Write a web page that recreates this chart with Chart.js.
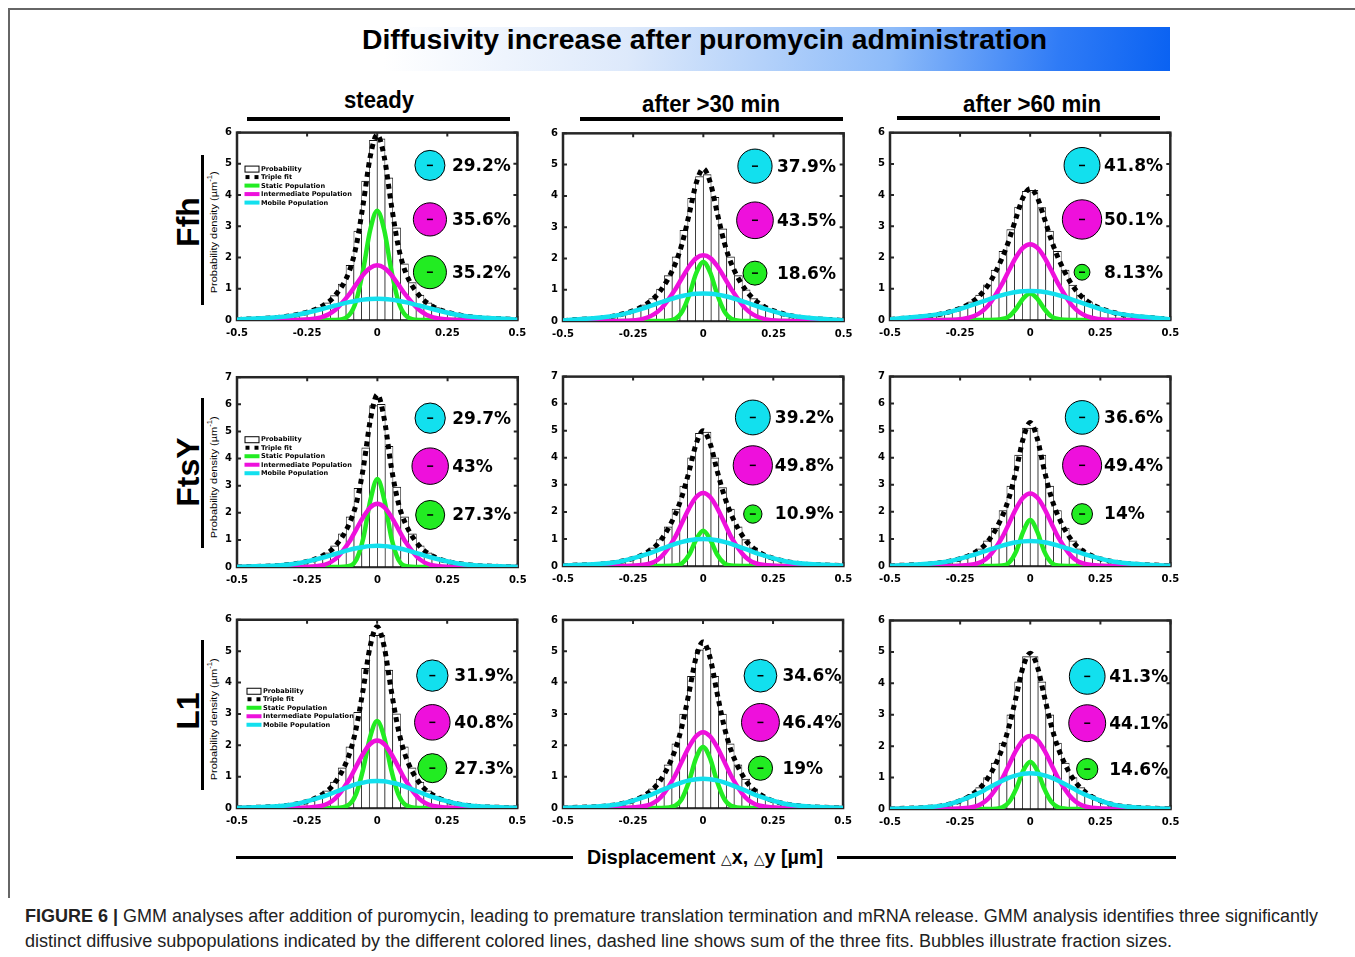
<!DOCTYPE html>
<html>
<head>
<meta charset="utf-8">
<script src="https://cdn.jsdelivr.net/npm/chart.js@4.4.0/dist/chart.umd.min.js"></script>
<style>
  body { margin:0; width:1355px; height:957px; background:#fff; position:relative; overflow:hidden; }
  canvas { position:absolute; }
  .txt { position:absolute; white-space:nowrap; color:#000; }
  .rule { position:absolute; background:#000; }
  .tri { font-weight:normal; font-size:0.72em; }
</style>
</head>
<body>
<script>
// sample offsets |dx| (µm) of the fitted curves; histogram has 36 bins over [-0.5, 0.5]
const offsets = [0, 0.025, 0.05, 0.075, 0.1, 0.15, 0.2, 0.3, 0.5];
const nBins = 36;
const proteins = ['Ffh', 'FtsY', 'L1'];
const conditions = ['steady', 'after >30 min', 'after >60 min'];
const yMax = [6, 7, 6];

// bubble fractions (%): mobile, intermediate, static -- per condition
const ffhFractions  = [[29.2, 35.6, 35.2], [37.9, 43.5, 18.6], [41.8, 50.1, 8.13]];
const ftsyFractions = [[29.7, 43, 27.3], [39.2, 49.8, 10.9], [36.6, 49.4, 14]];
const l1Fractions   = [[31.9, 40.8, 27.3], [34.6, 46.4, 19], [41.3, 44.1, 14.6]];

// fitted densities at the offsets above (curves are symmetric around 0)
const ffhStatic = [[3.5, 2.88, 1.61, 0.61, 0.16, 0.003, 0, 0, 0], [1.89, 1.54, 0.84, 0.31, 0.074, 0.001, 0, 0, 0], [0.85, 0.69, 0.36, 0.12, 0.03, 0, 0, 0, 0]];
const ffhInter  = [[1.75, 1.67, 1.45, 1.14, 0.82, 0.32, 0.084, 0.002, 0], [2.1, 2.01, 1.75, 1.39, 1.01, 0.40, 0.112, 0.003, 0], [2.43, 2.32, 2.02, 1.60, 1.16, 0.46, 0.127, 0.003, 0]];
const ffhMobile = [[0.68, 0.673, 0.652, 0.618, 0.573, 0.463, 0.344, 0.147, 0.01], [0.88, 0.871, 0.844, 0.80, 0.743, 0.601, 0.447, 0.192, 0.013], [0.93, 0.921, 0.895, 0.852, 0.796, 0.656, 0.499, 0.229, 0.019]];
const ftsyStatic = [[3.25, 2.46, 1.07, 0.27, 0.04, 0, 0, 0, 0], [1.3, 0.98, 0.42, 0.10, 0.015, 0, 0, 0, 0], [1.7, 1.27, 0.54, 0.13, 0.017, 0, 0, 0, 0]];
const ftsyInter  = [[2.33, 2.20, 1.85, 1.39, 0.93, 0.29, 0.058, 0, 0], [2.7, 2.55, 2.14, 1.61, 1.07, 0.34, 0.067, 0, 0], [2.68, 2.53, 2.13, 1.59, 1.06, 0.33, 0.066, 0, 0]];
const ftsyMobile = [[0.78, 0.77, 0.74, 0.69, 0.63, 0.48, 0.33, 0.11, 0.003], [1.0, 0.99, 0.95, 0.89, 0.815, 0.63, 0.44, 0.16, 0.006], [0.92, 0.91, 0.875, 0.82, 0.754, 0.59, 0.416, 0.154, 0.006]];
const l1Static = [[2.77, 2.26, 1.23, 0.45, 0.11, 0.002, 0, 0, 0], [1.95, 1.59, 0.85, 0.30, 0.072, 0.001, 0, 0, 0], [1.5, 1.22, 0.65, 0.23, 0.054, 0.001, 0, 0, 0]];
const l1Inter  = [[2.15, 2.04, 1.73, 1.32, 0.90, 0.30, 0.066, 0.001, 0], [2.42, 2.29, 1.95, 1.50, 1.03, 0.35, 0.079, 0.001, 0], [2.32, 2.20, 1.87, 1.42, 0.97, 0.33, 0.071, 0.001, 0]];
const l1Mobile = [[0.86, 0.85, 0.81, 0.76, 0.68, 0.51, 0.345, 0.11, 0.003], [0.93, 0.92, 0.88, 0.82, 0.74, 0.56, 0.375, 0.12, 0.003], [1.14, 1.12, 1.07, 1.0, 0.90, 0.665, 0.44, 0.13, 0.003]];

// displacement histograms, 36 bins from -0.5 to 0.5
const ffhHist = [
  [0.01,0.02,0.03,0.04,0.06,0.09,0.12,0.16,0.22,0.29,0.40,0.55,0.78,1.15,1.75,2.85,4.45,5.75, 5.8,4.55,2.95,1.8,1.2,0.8,0.55,0.4,0.29,0.22,0.16,0.12,0.09,0.06,0.04,0.03,0.02,0.01],
  [0.02,0.03,0.04,0.06,0.08,0.11,0.16,0.21,0.28,0.38,0.52,0.72,1.02,1.45,2.05,2.9,3.92,4.62, 4.68,3.95,2.95,2.05,1.45,1.0,0.72,0.52,0.38,0.28,0.21,0.16,0.11,0.08,0.06,0.04,0.03,0.02],
  [0.02,0.04,0.05,0.08,0.10,0.14,0.19,0.25,0.33,0.43,0.58,0.8,1.13,1.6,2.2,2.9,3.62,4.12, 4.15,3.6,2.85,2.2,1.6,1.12,0.8,0.58,0.43,0.33,0.25,0.19,0.14,0.1,0.08,0.05,0.04,0.02]
];
const ftsyHist = [
  [0.01,0.01,0.01,0.02,0.04,0.06,0.09,0.12,0.18,0.25,0.36,0.52,0.78,1.22,1.85,2.9,4.4,5.95, 6.0,4.45,2.95,1.85,1.22,0.78,0.52,0.36,0.25,0.18,0.12,0.09,0.06,0.04,0.02,0.01,0.01,0.01],
  [0.01,0.01,0.02,0.04,0.06,0.09,0.12,0.18,0.25,0.34,0.47,0.67,0.98,1.45,2.1,2.95,4.0,4.9, 4.95,4.0,2.9,2.1,1.45,0.98,0.67,0.47,0.34,0.25,0.18,0.12,0.09,0.06,0.04,0.02,0.01,0.01],
  [0.01,0.01,0.02,0.04,0.06,0.08,0.12,0.17,0.24,0.32,0.45,0.63,0.93,1.4,2.05,2.95,4.1,5.1, 5.1,4.1,2.95,2.05,1.4,0.93,0.63,0.45,0.32,0.24,0.17,0.12,0.08,0.06,0.04,0.02,0.01,0.01]
];
const l1Hist = [
  [0,0.01,0.01,0.02,0.04,0.06,0.08,0.12,0.18,0.26,0.38,0.55,0.83,1.28,1.95,3.05,4.45,5.5, 5.5,4.4,3.0,1.95,1.28,0.83,0.55,0.38,0.26,0.18,0.12,0.08,0.06,0.04,0.02,0.01,0.01,0],
  [0,0.01,0.01,0.02,0.04,0.06,0.09,0.14,0.2,0.28,0.42,0.61,0.92,1.38,2.05,3.0,4.2,5.05, 5.1,4.2,3.0,2.05,1.38,0.92,0.61,0.42,0.28,0.2,0.14,0.09,0.06,0.04,0.02,0.01,0.01,0],
  [0,0.01,0.01,0.02,0.04,0.06,0.1,0.15,0.22,0.32,0.47,0.68,1.0,1.46,2.1,3.0,4.05,4.85, 4.85,4.05,3.0,2.1,1.46,1.0,0.68,0.47,0.32,0.22,0.15,0.1,0.06,0.04,0.02,0.01,0.01,0]
];

const fractions = [ffhFractions, ftsyFractions, l1Fractions];
const staticFits = [ffhStatic, ftsyStatic, l1Static];
const interFits = [ffhInter, ftsyInter, l1Inter];
const mobileFits = [ffhMobile, ftsyMobile, l1Mobile];
const hists = [ffhHist, ftsyHist, l1Hist];

// ---- page layout ----
const plotLeft = [237, 563, 890], plotW = 281;
const plotTop = [133, 377, 620], plotH = [188, 190, 189];
const bubbleXs = [[0.188, 0.184, 0.185], [0.188, 0.177, 0.185], [0.197, 0.205, 0.203]];
const bubbleYs = [[4.95, 3.22, 1.53], [5.49, 3.72, 1.92], [4.22, 2.73, 1.27]];
const legendTop = [36, 62, 71], legendLeft = [7.5, 7.5, 9.5];

const GREEN = '#22ec22', MAGENTA = '#ee10dc', CYAN = '#12e0ee';
const TICK_FONT = { family: '"DejaVu Sans", sans-serif', weight: 'bold', size: 10 };

function mirror(profile) {
  const pts = [];
  for (let i = offsets.length - 1; i > 0; i--) pts.push({ x: -offsets[i], y: profile[i] });
  for (let i = 0; i < offsets.length; i++) pts.push({ x: offsets[i], y: profile[i] });
  return pts;
}

const panelDecor = {
  id: 'panelDecor',
  beforeDatasetsDraw(chart) {
    const { ctx, chartArea: a, scales: { x, y } } = chart;
    ctx.save();
    ctx.strokeStyle = '#262626';
    ctx.lineWidth = 2.5;
    ctx.strokeRect(a.left, a.top, a.right - a.left, a.bottom - a.top);
    ctx.lineWidth = 2;
    ctx.beginPath();
    x.ticks.forEach(t => {
      const px = x.getPixelForValue(t.value);
      ctx.moveTo(px, a.top); ctx.lineTo(px, a.top + 4);
      ctx.moveTo(px, a.bottom); ctx.lineTo(px, a.bottom - 4);
    });
    y.ticks.forEach(t => {
      const py = y.getPixelForValue(t.value);
      ctx.moveTo(a.left, py); ctx.lineTo(a.left + 4, py);
      ctx.moveTo(a.right, py); ctx.lineTo(a.right - 4, py);
    });
    ctx.stroke();
    ctx.restore();
  },
  afterDraw(chart, args, opts) {
    const { ctx, chartArea: a } = chart;
    ctx.save();
    // bubble centre marks and percentages
    const meta = chart.getDatasetMeta(opts.bubbleIndex);
    ctx.fillStyle = '#000';
    ctx.font = 'bold 17px "DejaVu Sans", sans-serif';
    ctx.textBaseline = 'middle';
    meta.data.forEach((el, j) => {
      ctx.fillRect(el.x - 3, el.y - 0.75, 6, 1.5);
      ctx.fillText(opts.labels[j] + '%', el.x + 22, el.y + 1);
    });
    if (opts.legend) {
      const ds = chart.data.datasets;
      const x0 = a.left + opts.legendLeft;
      const y0 = a.top + opts.legendTop;
      ctx.font = 'bold 6.6px "DejaVu Sans", sans-serif';
      // histogram, sum of fits, then static / intermediate / mobile
      const items = [ds[5], ds[4], ds[3], ds[2], ds[1]];
      items.forEach((d, i) => {
        const yy = y0 + i * 8.5;
        if (d.type === 'bar') {
          ctx.fillStyle = '#fff'; ctx.fillRect(x0, yy - 3, 14, 6);
          ctx.strokeStyle = '#000'; ctx.lineWidth = 1; ctx.strokeRect(x0 + 0.5, yy - 2.5, 14, 6);
        } else if (d.borderDash) {
          ctx.fillStyle = '#000'; ctx.fillRect(x0 + 1, yy - 2, 4, 4); ctx.fillRect(x0 + 10, yy - 2, 4, 4);
        } else {
          ctx.fillStyle = d.borderColor; ctx.fillRect(x0, yy - 2, 15, 4);
        }
        ctx.fillStyle = '#000';
        ctx.fillText(d.label, x0 + 16.5, yy + 0.5);
      });
    }
    ctx.restore();
  }
};

function makeConfig(r, c) {
  const st = staticFits[r][c], im = interFits[r][c], mo = mobileFits[r][c];
  const sum = st.map((v, i) => v + im[i] + mo[i]);
  const fr = fractions[r][c];
  const bars = hists[r][c].map((v, k) => ({ x: -0.5 + (k + 0.5) / nBins, y: v }));
  const bx = bubbleXs[r][c], by = bubbleYs[r];
  return {
    type: 'line',
    data: {
      datasets: [
        { type: 'bubble', label: 'fractions', order: 0,
          data: fr.map((p, j) => ({ x: bx, y: by[j], r: 2.78 * Math.sqrt(p) })),
          backgroundColor: [CYAN, MAGENTA, GREEN], borderColor: '#000', borderWidth: 1 },
        { label: 'Mobile Population', order: 1, data: mirror(mo), borderColor: CYAN },
        { label: 'Intermediate Population', order: 2, data: mirror(im), borderColor: MAGENTA },
        { label: 'Static Population', order: 3, data: mirror(st), borderColor: GREEN },
        { label: 'Triple fit', order: 4, data: mirror(sum), borderColor: '#000', borderWidth: 5, borderDash: [5, 4.5] },
        { type: 'bar', label: 'Probability', order: 5, data: bars,
          backgroundColor: '#fff', borderColor: '#111',
          borderWidth: { top: 1, bottom: 1, left: 0.7, right: 0.7 }, borderSkipped: false,
          barPercentage: 1, categoryPercentage: 1, grouped: false }
      ]
    },
    options: {
      responsive: false, animation: false, events: [],
      layout: { padding: { top: 8, right: 14, left: 0, bottom: 0 } },
      elements: {
        line: { borderWidth: 4.5, cubicInterpolationMode: 'monotone', fill: false },
        point: { radius: 0 }
      },
      scales: {
        x: { type: 'linear', min: -0.5, max: 0.5, offset: false,
             grid: { display: false, drawTicks: false }, border: { display: false },
             ticks: { stepSize: 0.25, autoSkip: false, maxRotation: 0, padding: 7, color: '#000', font: TICK_FONT,
                      callback: v => String(Math.round(v * 100) / 100) },
             afterFit: s => { s.height = 22; } },
        y: { type: 'linear', min: 0, max: yMax[r],
             grid: { display: false, drawTicks: false }, border: { display: false },
             ticks: { stepSize: 1, padding: 5, color: '#000', font: TICK_FONT },
             afterFit: s => { s.width = 24; } }
      },
      plugins: {
        legend: { display: false }, tooltip: { enabled: false },
        panelDecor: { bubbleIndex: 0, labels: fr.map(String), legend: c === 0,
                      legendTop: legendTop[r], legendLeft: legendLeft[r] }
      }
    },
    plugins: [panelDecor]
  };
}

function buildPanel(r, c) {
  const canvas = document.createElement('canvas');
  document.body.appendChild(canvas);
  canvas.width = plotW + 60; canvas.height = plotH[r] + 60;
  let chart = new Chart(canvas, makeConfig(r, c));
  const a = chart.chartArea;
  const dw = canvas.width - (a.right - a.left), dh = canvas.height - (a.bottom - a.top);
  chart.destroy();
  canvas.width = plotW + dw; canvas.height = plotH[r] + dh;
  chart = new Chart(canvas, makeConfig(r, c));
  const b = chart.chartArea;
  canvas.style.left = (plotLeft[c] - b.left) + 'px';
  canvas.style.top = (plotTop[r] - b.top) + 'px';
}

// ---- text and rules around the grid ----
const SANS = '"Liberation Sans", Arial, sans-serif';
function addText(html, o) {
  const d = document.createElement('div');
  d.className = 'txt';
  d.innerHTML = html;
  d.style.font = `${o.weight || 'normal'} ${o.size}px ${o.family || SANS}`;
  d.style.lineHeight = o.size + 'px';
  if (o.color) d.style.color = o.color;
  document.body.appendChild(d);
  const w = d.getBoundingClientRect().width;
  const sx = o.width ? o.width / w : 1;
  if (o.rotate) {
    d.style.left = (o.x - w / 2) + 'px';
    d.style.top = (o.y - o.size / 2) + 'px';
    d.style.transformOrigin = 'center center';
    d.style.transform = `rotate(-90deg) scaleX(${sx})`;
  } else {
    d.style.left = (o.align === 'center' ? o.x - w * sx / 2 : o.x) + 'px';
    d.style.top = (o.base - 0.846 * o.size) + 'px';
    d.style.transformOrigin = 'left top';
    d.style.transform = `scaleX(${sx})`;
  }
}
function addRule(x, y, w, h, color) {
  const d = document.createElement('div');
  d.className = 'rule';
  Object.assign(d.style, { left: x + 'px', top: y + 'px', width: w + 'px', height: h + 'px' });
  if (color) d.style.background = color;
  document.body.appendChild(d);
}

addRule(8, 8, 1347, 1.5, '#666');
addRule(8, 8, 1.5, 890, '#666');

const banner = document.createElement('div');
Object.assign(banner.style, { position: 'absolute', left: '237px', top: '27px', width: '933px', height: '44px',
  background: 'linear-gradient(96deg, #ffffff 0%, #ffffff 16%, #dde9fb 42%, #8dbbf9 70%, #2f7bf6 88%, #0a62f2 100%)' });
document.body.appendChild(banner);
addText('Diffusivity increase after puromycin administration', { x: 704.5, base: 50, size: 28, weight: 'bold', align: 'center', width: 685 });

const colCenter = [379, 711, 1032], colBase = [108, 112, 112], colWidth = [70, 138, 138];
const ruleX = [[247, 263], [580, 263], [897, 263]], ruleY = [117, 117, 116];
conditions.forEach((t, c) => {
  addText(t, { x: colCenter[c], base: colBase[c], size: 23, weight: 'bold', align: 'center', width: colWidth[c] });
  addRule(ruleX[c][0], ruleY[c], ruleX[c][1], 4);
});

const rowLabelY = [222, 472, 711], barTop = [155, 398, 640], densityY = [231, 476, 718];
proteins.forEach((p, r) => {
  addText(p, { x: 188, y: rowLabelY[r], size: 32, weight: 'bold', rotate: true });
  addRule(201, barTop[r], 3, 150);
  addText('Probability density (µm<sup style="font-size:0.7em">-1</sup>)', { x: 212, y: densityY[r], size: 9.5, rotate: true, width: 122 });
});

addRule(236, 856, 337, 3);
addRule(837, 856, 339, 3);
addText('Displacement <span class="tri">△</span>x, <span class="tri">△</span>y [µm]', { x: 705, base: 864, size: 20, weight: 'bold', align: 'center', width: 236 });

addText('<b>FIGURE 6 |</b> GMM analyses after addition of puromycin, leading to premature translation termination and mRNA release. GMM analysis identifies three significantly',
  { x: 25, base: 922, size: 18, color: '#222', width: 1293 });
addText('distinct diffusive subpopulations indicated by the different colored lines, dashed line shows sum of the three fits. Bubbles illustrate fraction sizes.',
  { x: 25, base: 947, size: 18, color: '#222', width: 1147 });

for (let r = 0; r < 3; r++) for (let c = 0; c < 3; c++) buildPanel(r, c);
</script>
</body>
</html>
